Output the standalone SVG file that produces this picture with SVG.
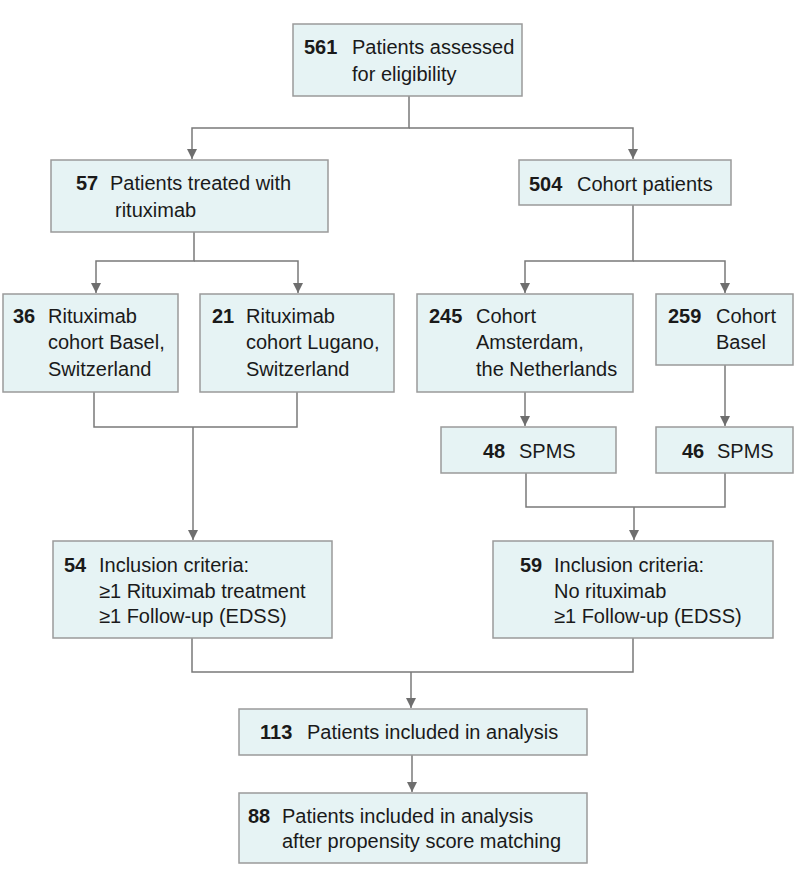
<svg xmlns="http://www.w3.org/2000/svg" width="794" height="885" viewBox="0 0 794 885">
<style>
.box{fill:#e6f3f4;stroke:#9a9a9a;stroke-width:1.5}
.t{font-family:"Liberation Sans",Arial,sans-serif;font-size:20px;fill:#1a1a1a}
.n{font-weight:bold}
.c{fill:none;stroke:#7a7a7a;stroke-width:1.5}
</style>
<defs>
<marker id="ah" markerUnits="userSpaceOnUse" markerWidth="11" markerHeight="11" refX="10" refY="5" orient="auto">
<path d="M0,0 L10,5 L0,10 z" fill="#6e6e6e"/>
</marker>
</defs>
<rect width="794" height="885" fill="#ffffff"/>
<g id="connectors">
<path class="c" d="M409 96 V128 H192 V159" marker-end="url(#ah)"/>
<path class="c" d="M409 128 H633 V159" marker-end="url(#ah)"/>
<path class="c" d="M194 232 V261 H96 V293" marker-end="url(#ah)"/>
<path class="c" d="M194 261 H298 V293" marker-end="url(#ah)"/>
<path class="c" d="M633 205 V261 H525 V293" marker-end="url(#ah)"/>
<path class="c" d="M633 261 H725 V293" marker-end="url(#ah)"/>
<path class="c" d="M94 392 V427 H297 V392"/>
<path class="c" d="M193 427 V540" marker-end="url(#ah)"/>
<path class="c" d="M525 392 V426" marker-end="url(#ah)"/>
<path class="c" d="M725 365 V426" marker-end="url(#ah)"/>
<path class="c" d="M526 473 V507 H725 V473"/>
<path class="c" d="M634 507 V540" marker-end="url(#ah)"/>
<path class="c" d="M192 638 V672 H633 V638"/>
<path class="c" d="M411 672 V708" marker-end="url(#ah)"/>
<path class="c" d="M412 755 V792" marker-end="url(#ah)"/>
</g>
<g id="n561">
<rect class="box" x="293" y="24" width="229" height="72"/>
<text class="t"><tspan class="n" x="304" y="54">561</tspan><tspan x="352" y="54">Patients assessed</tspan><tspan x="352" y="81">for eligibility</tspan></text>
</g>
<g id="n57">
<rect class="box" x="51" y="160" width="277" height="72"/>
<text class="t"><tspan class="n" x="76" y="190">57</tspan><tspan x="110" y="190">Patients treated with</tspan><tspan x="115" y="217">rituximab</tspan></text>
</g>
<g id="n504">
<rect class="box" x="519" y="160" width="212" height="45"/>
<text class="t"><tspan class="n" x="529" y="191">504</tspan><tspan x="577" y="191">Cohort patients</tspan></text>
</g>
<g id="n36">
<rect class="box" x="3" y="294" width="175" height="98"/>
<text class="t"><tspan class="n" x="13" y="323">36</tspan><tspan x="48" y="323">Rituximab</tspan><tspan x="48" y="349">cohort Basel,</tspan><tspan x="48" y="376">Switzerland</tspan></text>
</g>
<g id="n21">
<rect class="box" x="200" y="294" width="194" height="98"/>
<text class="t"><tspan class="n" x="212" y="323">21</tspan><tspan x="246" y="323">Rituximab</tspan><tspan x="246" y="349">cohort Lugano,</tspan><tspan x="246" y="376">Switzerland</tspan></text>
</g>
<g id="n245">
<rect class="box" x="417" y="294" width="216" height="98"/>
<text class="t"><tspan class="n" x="429" y="323">245</tspan><tspan x="476" y="323">Cohort</tspan><tspan x="476" y="349">Amsterdam,</tspan><tspan x="476" y="376">the Netherlands</tspan></text>
</g>
<g id="n259">
<rect class="box" x="656" y="294" width="137" height="71"/>
<text class="t"><tspan class="n" x="668" y="323">259</tspan><tspan x="716" y="323">Cohort</tspan><tspan x="716" y="349">Basel</tspan></text>
</g>
<g id="n48">
<rect class="box" x="441" y="427" width="175" height="46"/>
<text class="t"><tspan class="n" x="483" y="458">48</tspan><tspan x="519" y="458">SPMS</tspan></text>
</g>
<g id="n46">
<rect class="box" x="656" y="427" width="137" height="46"/>
<text class="t"><tspan class="n" x="682" y="458">46</tspan><tspan x="717" y="458">SPMS</tspan></text>
</g>
<g id="n54">
<rect class="box" x="53" y="541" width="279" height="97"/>
<text class="t"><tspan class="n" x="64" y="572">54</tspan><tspan x="99" y="572">Inclusion criteria:</tspan><tspan x="99" y="598">≥1 Rituximab treatment</tspan><tspan x="99" y="623">≥1 Follow-up (EDSS)</tspan></text>
</g>
<g id="n59">
<rect class="box" x="493" y="541" width="280" height="97"/>
<text class="t"><tspan class="n" x="520" y="572">59</tspan><tspan x="554" y="572">Inclusion criteria:</tspan><tspan x="554" y="598">No rituximab</tspan><tspan x="554" y="623">≥1 Follow-up (EDSS)</tspan></text>
</g>
<g id="n113">
<rect class="box" x="239" y="709" width="348" height="46"/>
<text class="t"><tspan class="n" x="260" y="739">113</tspan><tspan x="307" y="739">Patients included in analysis</tspan></text>
</g>
<g id="n88">
<rect class="box" x="239" y="793" width="348" height="70"/>
<text class="t"><tspan class="n" x="248" y="823">88</tspan><tspan x="282" y="823">Patients included in analysis</tspan><tspan x="282" y="848">after propensity score matching</tspan></text>
</g>
</svg>
